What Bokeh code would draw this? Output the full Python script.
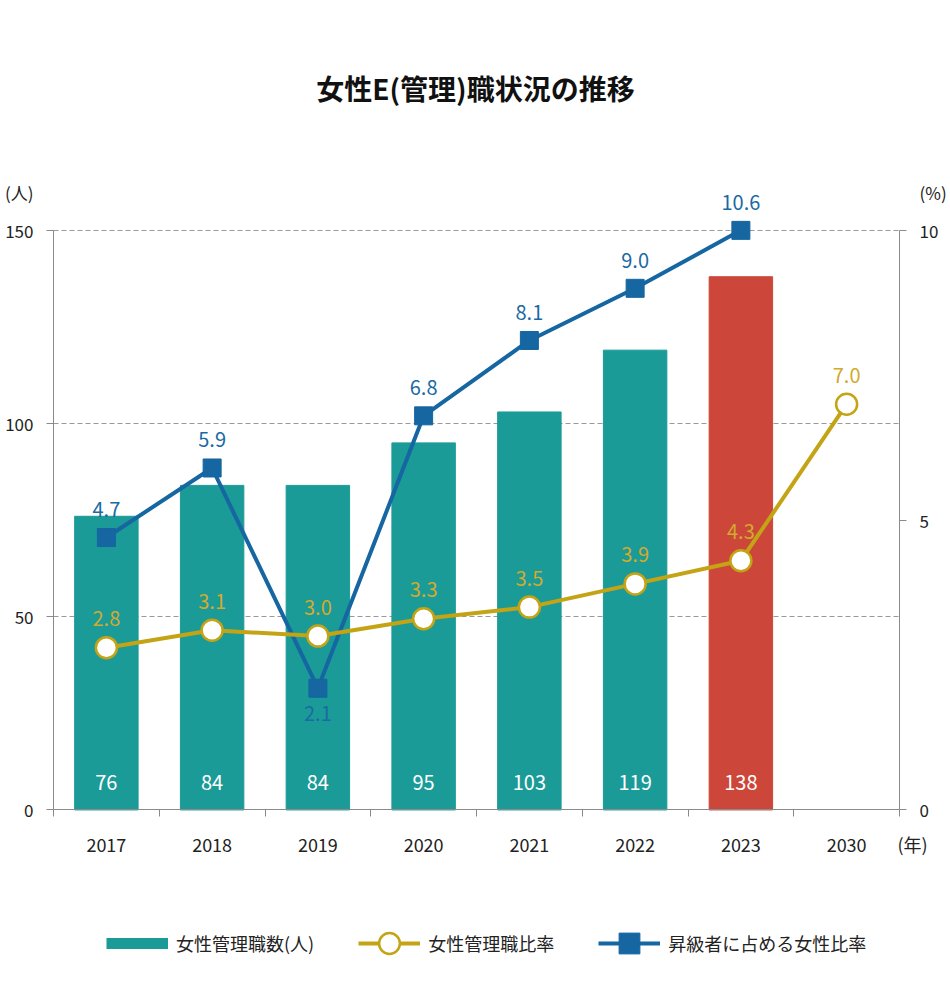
import numpy as np
from bokeh.plotting import figure
from bokeh.models import (ColumnDataSource, Range1d, LinearAxis, FixedTicker,
                          LabelSet, Legend, LegendItem, Grid)
from bokeh.core.properties import value
from bokeh.embed import file_html
from bokeh.resources import INLINE

# ---------------- data ----------------
YEARS = ["2017", "2018", "2019", "2020", "2021", "2022", "2023", "2030"]
MANAGERS = [76, 84, 84, 95, 103, 119, 138]                 # 女性管理職数(人)
MANAGER_RATIO = [2.8, 3.1, 3.0, 3.3, 3.5, 3.9, 4.3, 7.0]   # 女性管理職比率(%)
PROMOTION_RATIO = [4.7, 5.9, 2.1, 6.8, 8.1, 9.0, 10.6]     # 昇級者に占める女性比率(%)
LEFT_TICKS = [0, 50, 100, 150]
RIGHT_TICKS = [0, 5, 10]
HIGHLIGHT_YEAR = "2023"
UNIT_LEFT = "(人)"
UNIT_RIGHT = "(%)"
UNIT_X = "(年)"
LEGEND_LABELS = ["女性管理職数(人)", "女性管理職比率", "昇級者に占める女性比率"]

# ---------------- styles ----------------
FONT = "Noto Sans CJK JP"
TEAL = "#1B9B98"
RED = "#CC473A"
GOLD = "#C4A415"
GOLD_TXT = "#D2AA2C"
BLUE = "#1566A1"
BLUE_TXT = "#1A6AA3"
AXIS = "#8A8A8A"
TXT = "#222222"

# ---------------- layout (pixels) ----------------
FIG_W, FIG_H = 950, 996
FRAME_TOP = 170          # space for the title above
AX_L, AX_R = 53, 899     # left / right axis lines
AX_TOP, AX_BOT = 228, 809  # pixel rows of the axis maximum and of zero
UNIT_ROW = 190           # row of the (人) / (%) unit labels
UNIT_X_COL = 912         # column of the (年) unit label
LEG_LEFT, LEG_BOTTOM = 106, 969

n = len(YEARS)
idx = np.arange(n)
bar_idx = idx[:len(MANAGERS)]
bar_colors = [RED if YEARS[i] == HIGHLIGHT_YEAR else TEAL for i in bar_idx]
x_lo, x_hi = -0.5, n - 0.5
y_max = LEFT_TICKS[-1]
r_max = RIGHT_TICKS[-1]

ux = (AX_R - AX_L) / n                       # px per category
uy = (AX_BOT - AX_TOP) / y_max               # px per person
ur = (AX_BOT - AX_TOP) / r_max               # px per percent
x_range = Range1d(x_lo - AX_L / ux, x_lo + (FIG_W - AX_L) / ux)
y_range = Range1d(-(FIG_H - AX_BOT) / uy, (AX_BOT - FRAME_TOP) / uy)
pct_range = Range1d(-(FIG_H - AX_BOT) / ur, (AX_BOT - FRAME_TOP) / ur)

p = figure(width=FIG_W, height=FIG_H, output_backend="svg", toolbar_location=None,
           x_axis_type=None, y_axis_type=None,
           x_range=x_range, y_range=y_range,
           min_border_left=0, min_border_right=0,
           min_border_top=FRAME_TOP, min_border_bottom=0)
p.outline_line_color = None
p.extra_y_ranges = {"pct": pct_range}

# title
p.title.text = "女性E(管理)職状況の推移"
p.title.align = "center"
p.title.text_font = FONT
p.title.text_font_size = "28px"
p.title.text_font_style = "bold"
p.title.text_color = "#111111"
p.title.standoff = 130


def style_axis(ax, labels_at, labels, marks_at, bounds, standoff, size="17px"):
    ax.ticker = FixedTicker(ticks=list(labels_at), minor_ticks=list(marks_at))
    ax.major_label_overrides = {float(t): l for t, l in zip(labels_at, labels)}
    ax.bounds = bounds
    ax.major_tick_line_color = None
    ax.major_tick_out = 0
    ax.major_tick_in = 0
    ax.minor_tick_line_color = AXIS
    ax.minor_tick_out = 7
    ax.minor_tick_in = 0
    ax.axis_line_color = AXIS
    ax.major_label_standoff = standoff
    ax.major_label_text_font = FONT
    ax.major_label_text_font_size = size
    ax.major_label_text_color = TXT


# x axis (pinned at zero)
x_unit = x_lo + (UNIT_X_COL - AX_L) / ux
xa = LinearAxis(fixed_location=0)
style_axis(xa, list(idx) + [x_unit], YEARS + [UNIT_X],
           np.arange(x_lo, x_hi + 0.01, 1.0), (x_lo, x_hi), 14, "18px")
p.add_layout(xa, "below")

# left axis (pinned at the first category edge)
y_unit = (AX_BOT - UNIT_ROW) / uy
ya = LinearAxis(fixed_location=x_lo)
style_axis(ya, LEFT_TICKS + [y_unit], [str(t) for t in LEFT_TICKS] + [UNIT_LEFT],
           LEFT_TICKS, (0, y_max), 13)
p.add_layout(ya, "left")

# right axis (pinned at the last category edge)
r_unit = (AX_BOT - UNIT_ROW) / ur
ra = LinearAxis(y_range_name="pct", fixed_location=x_hi)
style_axis(ra, RIGHT_TICKS + [r_unit], [str(t) for t in RIGHT_TICKS] + [UNIT_RIGHT],
           RIGHT_TICKS, (0, r_max), 13)
p.add_layout(ra, "right")

# horizontal grid lines between the two axes
grid_ticks = LEFT_TICKS[1:]
try:
    grid = Grid(dimension=1, ticker=FixedTicker(ticks=grid_ticks),
                grid_line_color="#9A9A9A", grid_line_dash="5 3", grid_line_width=1)
    grid.cross_bounds = (x_lo, x_hi)
    p.add_layout(grid, "center")
except AttributeError:
    p.multi_line([[x_lo, x_hi]] * len(grid_ticks), [[t, t] for t in grid_ticks],
                 line_color="#9A9A9A", line_dash="5 3", line_width=1)

# bars
bar_src = ColumnDataSource(dict(x=bar_idx, top=MANAGERS, color=bar_colors,
                                base=[0] * len(MANAGERS),
                                txt=[str(v) for v in MANAGERS]))
p.vbar(x="x", top="top", width=0.6, color="color", source=bar_src)
p.add_layout(LabelSet(x="x", y="base", text="txt", source=bar_src, y_offset=27,
                      text_align="center", text_baseline="middle",
                      text_color="white", text_font=value(FONT),
                      text_font_size="20px"))
# legend swatch for the bars (muted, so it only shows in the legend)
bar_key = p.line("x", "top", source=bar_src, line_color=TEAL, line_width=11,
                 muted_alpha=0)
bar_key.muted = True

# promotion ratio (blue), plotted within the axis maximum
pr = np.array(PROMOTION_RATIO)
pr_plot = np.minimum(pr, r_max)
pr_off = []
for i, v in enumerate(pr):
    lo = (i > 0 and v < pr[i - 1]) and (i < len(pr) - 1 and v < pr[i + 1])
    pr_off.append(-25 if lo else 28)
blue_src = ColumnDataSource(dict(x=idx[:len(pr)], y=pr_plot, off=pr_off,
                                 txt=[f"{v:.1f}" for v in pr]))
blue_line = p.line("x", "y", source=blue_src, y_range_name="pct",
                   line_color=BLUE, line_width=4)
blue_pts = p.scatter("x", "y", source=blue_src, y_range_name="pct",
                     marker="square", size=18, fill_color=BLUE, line_color=BLUE)
p.add_layout(LabelSet(x="x", y="y", text="txt", source=blue_src, y_range_name="pct",
                      y_offset="off", text_align="center", text_baseline="middle",
                      text_color=BLUE_TXT, text_font=value(FONT),
                      text_font_size="20px"))

# manager ratio (gold)
gold_src = ColumnDataSource(dict(x=idx, y=MANAGER_RATIO,
                                 txt=[f"{v:.1f}" for v in MANAGER_RATIO]))
gold_line = p.line("x", "y", source=gold_src, y_range_name="pct",
                   line_color=GOLD, line_width=4)
gold_pts = p.scatter("x", "y", source=gold_src, y_range_name="pct",
                     marker="circle", size=21, fill_color="white",
                     line_color=GOLD, line_width=2.5)
p.add_layout(LabelSet(x="x", y="y", text="txt", source=gold_src, y_range_name="pct",
                      y_offset=29, text_align="center", text_baseline="middle",
                      text_color=GOLD_TXT, text_font=value(FONT),
                      text_font_size="20px"))

# legend
legend = Legend(items=[
    LegendItem(label=LEGEND_LABELS[0], renderers=[bar_key]),
    LegendItem(label=LEGEND_LABELS[1], renderers=[gold_line, gold_pts]),
    LegendItem(label=LEGEND_LABELS[2], renderers=[blue_line, blue_pts]),
], orientation="horizontal", location=(LEG_LEFT, FIG_H - LEG_BOTTOM))
legend.glyph_width = 62
legend.glyph_height = 52
legend.label_standoff = 8
legend.spacing = 44
legend.padding = 0
legend.margin = 0
legend.border_line_color = None
legend.background_fill_alpha = 0
legend.label_text_font = FONT
legend.label_text_font_size = "18px"
legend.label_text_color = TXT
p.add_layout(legend, "center")

open("out.html", "w").write(file_html(p, INLINE))
